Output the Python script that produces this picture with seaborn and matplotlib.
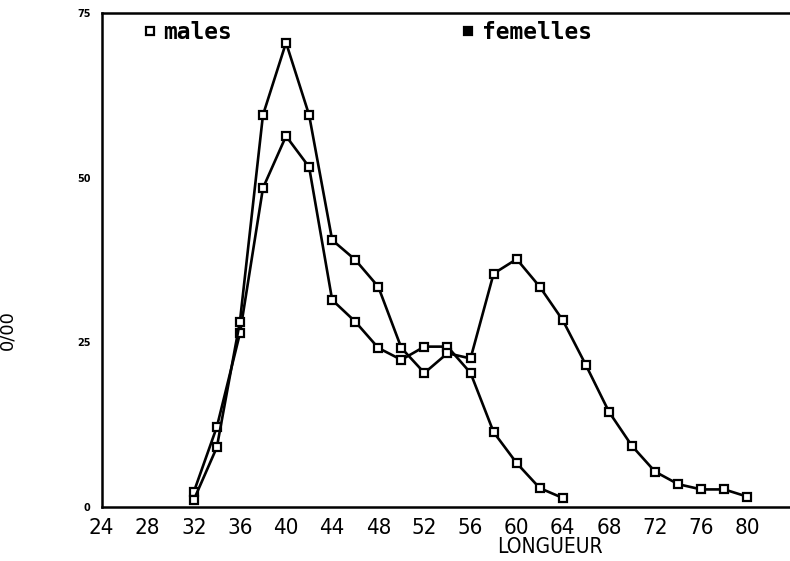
import numpy as np
import pandas as pd
import seaborn as sns
import matplotlib.pyplot as plt
from matplotlib.lines import Line2D

# longueur (classes de 2) et frequences pour mille
long_males = [32, 34, 36, 38, 40, 42, 44, 46, 48, 50, 52, 54, 56, 58, 60, 62, 64]
freq_males = [2.2, 12.1, 26.3, 48.4, 56.3, 51.6, 31.4, 28.1, 24.1, 22.3, 24.3, 24.3,
              20.3, 11.3, 6.6, 2.8, 1.3]

long_femelles = [32, 34, 36, 38, 40, 42, 44, 46, 48, 50, 52, 54, 56, 58, 60, 62, 64,
                 66, 68, 70, 72, 74, 76, 78, 80]
freq_femelles = [1.0, 9.0, 28.1, 59.5, 70.5, 59.5, 40.5, 37.5, 33.4, 24.1, 20.3, 23.3,
                 22.5, 35.4, 37.6, 33.4, 28.3, 21.5, 14.4, 9.2, 5.3, 3.4, 2.6, 2.6, 1.5]

x_ticks = list(range(24, 81, 4))
y_ticks = [0, 25, 50, 75]

sns.set_style("white")
plt.rcParams['font.family'] = ['DejaVu Sans']
plt.rcParams['text.color'] = 'black'
plt.rcParams['axes.labelcolor'] = 'black'

fig = plt.figure(figsize=(7.9, 5.61), dpi=100)
ax = fig.add_axes([0.1285, 0.0971, 0.8715, 0.8797])

mk = dict(color='black', linewidth=1.9, marker='s', markersize=6,
          markerfacecolor='white', markeredgecolor='black', markeredgewidth=1.6)
sns.lineplot(x=long_males, y=freq_males, ax=ax, **mk)
sns.lineplot(x=long_femelles, y=freq_femelles, ax=ax, **mk)

narrow = ['Liberation Sans Narrow', 'DejaVu Sans']
ax.set_xlim(24, 83.7)
ax.set_ylim(0, 75)
ax.set_xticks(x_ticks)
ax.set_yticks(y_ticks)
ax.set_xticklabels([str(v) for v in x_ticks], fontsize=16, family=narrow,
                   fontstretch='condensed')
ax.set_yticklabels([str(v) for v in y_ticks], fontsize=7, fontweight='bold')
ax.tick_params(axis='x', direction='out', length=8, width=1.5, pad=0, colors='black')
ax.tick_params(axis='y', direction='out', length=7, width=1.5, pad=1, colors='black')

for side in ['left', 'bottom', 'top']:
    ax.spines[side].set_linewidth(1.8)
    ax.spines[side].set_color('black')
ax.spines['right'].set_visible(False)

ax.set_xlabel("LONGUEUR", fontsize=15, family=narrow, fontstretch='condensed')
ax.xaxis.set_label_coords(0.652, -0.062)
ax.set_ylabel("0/00", fontsize=13)
ax.yaxis.set_label_coords(-0.123, 0.358)

handles = [Line2D([], [], linestyle='none', marker='s', markersize=6,
                  markerfacecolor='white', markeredgecolor='black', markeredgewidth=1.6),
           Line2D([], [], linestyle='none', marker='s', markersize=6,
                  markerfacecolor='black', markeredgecolor='black', markeredgewidth=1.6)]
ax.legend(handles, ['males', 'femelles'], ncol=2, loc='upper left',
          bbox_to_anchor=(0.03, 1.025), frameon=False, handlelength=0.6,
          handletextpad=0.3, columnspacing=10.0,
          prop={'family': 'DejaVu Sans Mono', 'weight': 'bold', 'size': 16.5})

fig.savefig("out.png", dpi=100)
